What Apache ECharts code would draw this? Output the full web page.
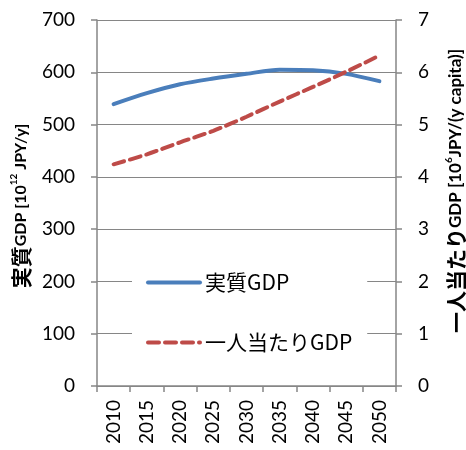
<!DOCTYPE html>
<html>
<head>
<meta charset="utf-8">
<script src="https://cdn.jsdelivr.net/npm/echarts@6/dist/echarts.min.js"></script>
<style>
  html, body { margin: 0; padding: 0; background: #fff; }
  #chart { width: 466px; height: 450px; }
</style>
</head>
<body>
<div id="chart"></div>
<script>
// Real GDP and GDP per capita, 2010–2050
const years = ['2010', '2015', '2020', '2025', '2030', '2035', '2040', '2045', '2050'];
const realGdp = [539, 560, 577, 588, 597, 605, 604, 597, 583];          // 10^12 JPY/y
const gdpPerCapita = [4.24, 4.43, 4.66, 4.88, 5.15, 5.44, 5.72, 6.01, 6.32]; // 10^6 JPY/(y capita)
const leftTicks = [0, 700, 100];
const rightTicks = [0, 7, 1];

const FONT = 'Lato, "Noto Sans CJK JP", sans-serif';
const CJK = '"Noto Sans CJK JP", sans-serif';
const GRID = '#868686';
const BLUE = '#4A7EBB';
const RED = '#BE4B48';

// rich-text styles for the rotated axis titles
function titleRich(latinSize) {
  return {
    j: { fontSize: 21, fontWeight: 'bold', fontFamily: CJK, fill: '#000', lineHeight: 24 },
    n: { fontSize: latinSize, fontWeight: 'bold', fontFamily: FONT, fill: '#000', lineHeight: 24 },
    s: { fontSize: 10, fontWeight: 'bold', fontFamily: FONT, fill: '#000', verticalAlign: 'top', lineHeight: 16 }
  };
}

const chart = echarts.init(document.getElementById('chart'), null, { renderer: 'canvas' });

chart.setOption({
  animation: false,
  backgroundColor: '#fff',
  grid: { left: 97, right: 70, top: 20, bottom: 64, containLabel: false },
  xAxis: {
    type: 'category',
    data: years,
    boundaryGap: true,
    axisLine: { lineStyle: { color: GRID, width: 1.5 } },
    axisTick: { show: true, length: 6, lineStyle: { color: GRID, width: 1.5 } },
    axisLabel: { rotate: 90, margin: 14, color: '#000', fontSize: 19, fontFamily: FONT }
  },
  yAxis: [
    {
      type: 'value',
      min: leftTicks[0], max: leftTicks[1], interval: leftTicks[2],
      axisLine: { show: true, lineStyle: { color: GRID, width: 1.5 } },
      axisTick: { show: true, length: 6, lineStyle: { color: GRID, width: 1.5 } },
      axisLabel: { margin: 22, color: '#000', fontSize: 19, fontFamily: FONT },
      splitLine: { show: true, lineStyle: { color: GRID, width: 1 } }
    },
    {
      type: 'value',
      min: rightTicks[0], max: rightTicks[1], interval: rightTicks[2],
      position: 'right',
      axisLine: { show: true, lineStyle: { color: GRID, width: 1.5 } },
      axisTick: { show: true, length: 6, lineStyle: { color: GRID, width: 1.5 } },
      axisLabel: { margin: 22, color: '#000', fontSize: 19, fontFamily: FONT },
      splitLine: { show: false }
    }
  ],
  legend: {
    orient: 'vertical',
    left: 132,
    top: 254,
    padding: [18, 15, 18, 14],
    backgroundColor: '#fff',
    itemWidth: 52,
    itemHeight: 14,
    itemGap: 39,
    itemStyle: { opacity: 0 },
    textStyle: { fontSize: 21, color: '#000', fontFamily: CJK },
    data: [
      { name: '実質GDP', lineStyle: { width: 4, color: BLUE, type: 'solid' } },
      { name: '一人当たりGDP', lineStyle: { width: 4, color: RED, type: [11, 6] } }
    ]
  },
  graphic: [
    {
      type: 'text',
      x: 21, y: 206,
      rotation: Math.PI / 2,
      style: {
        text: '{j|実質}{n|GDP [10}{s|12}{n| JPY/y]}',
        align: 'center',
        verticalAlign: 'middle',
        rich: titleRich(16)
      }
    },
    {
      type: 'text',
      x: 456, y: 191,
      rotation: Math.PI / 2,
      style: {
        text: '{j|一人当たり}{n|GDP [10}{s|6}{n|JPY/(y capita)]}',
        align: 'center',
        verticalAlign: 'middle',
        rich: titleRich(17)
      }
    }
  ],
  series: [
    {
      name: '実質GDP',
      type: 'line',
      yAxisIndex: 0,
      data: realGdp,
      smooth: 0.3,
      symbol: 'none',
      lineStyle: { color: BLUE, width: 4, cap: 'round' },
      itemStyle: { color: BLUE },
      z: 3
    },
    {
      name: '一人当たりGDP',
      type: 'line',
      yAxisIndex: 1,
      data: gdpPerCapita,
      smooth: 0.3,
      symbol: 'none',
      lineStyle: { color: RED, width: 4, type: [11, 6], cap: 'round' },
      itemStyle: { color: RED },
      z: 4
    }
  ]
});
</script>
</body>
</html>
